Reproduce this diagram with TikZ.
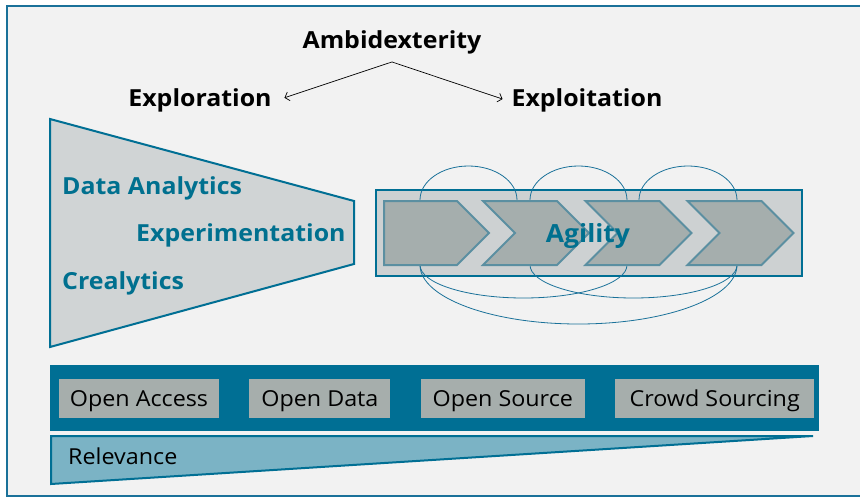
\documentclass[tikz,border=0pt]{standalone}
\usepackage{fontspec}
\setmainfont[FakeStretch=1.06]{Open Sans}
\usetikzlibrary{
arrows.meta,
positioning,
shapes.symbols
}

\definecolor{frameblue}{HTML}{1A7199}
\definecolor{tealtext}{HTML}{00708F}
\definecolor{panelgray}{HTML}{F2F2F2}
\definecolor{funnelgray}{HTML}{D0D4D5}
\definecolor{agilegray}{HTML}{CDD1D2}
\definecolor{chevgray}{HTML}{A5AEAD}
\definecolor{chevline}{HTML}{5B8FA1}
\definecolor{bandblue}{HTML}{006F94}
\definecolor{tagsgray}{HTML}{A6AEAC}
\definecolor{wedgeblue}{HTML}{7BB3C5}

\begin{document}
\begin{tikzpicture}[
x=1pt,y=-1pt,
node distance=30pt,
head/.style={
font=\fontsize{23.5}{28}\selectfont\bfseries,
inner xsep=6pt,
inner ysep=8pt
},
term/.style={
font=\fontsize{23.5}{28}\selectfont\bfseries,
text=tealtext,
inner sep=0pt,
anchor=west
},
chevron/.style={
signal,
signal to=east,
signal pointer angle=90,
draw=chevline,
line width=2pt,
fill=chevgray,
minimum width=106pt,
minimum height=64pt
},
tag/.style={
fill=tagsgray,
minimum height=39pt,
inner xsep=4pt,
text height=17pt,
text depth=2pt,
font=\fontsize{22}{26}\selectfont
},
arrow/.style={-{Straight Barb[length=4pt,width=9pt]},line width=0.7pt},
cycleline/.style={draw=frameblue,line width=0.8pt}
]

\useasboundingbox (0,0) rectangle (860,498);
\clip (0,0) rectangle (860,498);

% panel
\draw[frameblue,line width=2.5pt,fill=panelgray] (7,6) rectangle (900,496);

% ambidexterity
\node[head] (ambi) at (392,42) {Ambidexterity};
\node[head] (explore) at (200,100) {Exploration};
\node[head] (exploit) at (587,100) {Exploitation};

\draw[arrow,shorten >=7pt] (ambi.south) -- (explore.east);
\draw[arrow,shorten >=3pt] (ambi.south) -- (exploit.west);

% funnel
\filldraw[draw=bandblue,fill=funnelgray,line width=2pt]
(50,119) -- (354,201) -- (354,264) -- (50,347) -- cycle;

\node[term] (analytics) at (62,188) {Data Analytics};
\node[term] (experiment) at (136,235) {Experimentation};
\node[term] (crealytics) at (62,283) {Crealytics};

% agility
\node[draw=bandblue,fill=agilegray,line width=2pt,
minimum width=426pt,minimum height=86pt] (agilebox) at (589,233) {};

\draw[cycleline] (420,200) arc[start angle=180,end angle=360,x radius=48.5,y radius=34];
\draw[cycleline] (530,200) arc[start angle=180,end angle=360,x radius=48.5,y radius=34];
\draw[cycleline] (639,200) arc[start angle=180,end angle=360,x radius=49,y radius=34];
\draw[cycleline] (420,265) arc[start angle=180,end angle=0,x radius=103.5,y radius=33];
\draw[cycleline] (530,265) arc[start angle=180,end angle=0,x radius=103.5,y radius=33];
\draw[cycleline] (420,265) arc[start angle=180,end angle=0,x radius=158.5,y radius=59];

\node[chevron,minimum width=105pt] (stage1) at (420.5,233) {};
\node[chevron,signal from=west] (stage2) at (536,233) {};
\node[chevron,signal from=west] (stage3) at (638.5,233) {};
\node[chevron,signal from=west] (stage4) at (740.5,233) {};

\node[term,anchor=center,font=\fontsize{25}{30}\selectfont\bfseries] (agility) at (588,236) {Agility};

% openness
\node[fill=bandblue,inner sep=0pt,
minimum width=769pt,minimum height=66pt] (band) at (434.5,398) {};

\node[tag,minimum width=160pt] (access) at (139,398.5) {Open Access};
\node[tag,minimum width=141pt,right=of access] (opendata) {Open Data};
\node[tag,minimum width=164pt,right=of opendata] (opensource) {Open Source};
\node[tag,minimum width=199pt,right=of opensource] (crowd) {Crowd Sourcing};

% relevance
\filldraw[draw=bandblue,fill=wedgeblue,line width=2pt]
(51,436) -- (813,436) -- (51,484) -- cycle;
\node[anchor=west,inner sep=0pt,font=\fontsize{22}{26}\selectfont] (relevance) at (68,456) {Relevance};

\end{tikzpicture}
\end{document}
